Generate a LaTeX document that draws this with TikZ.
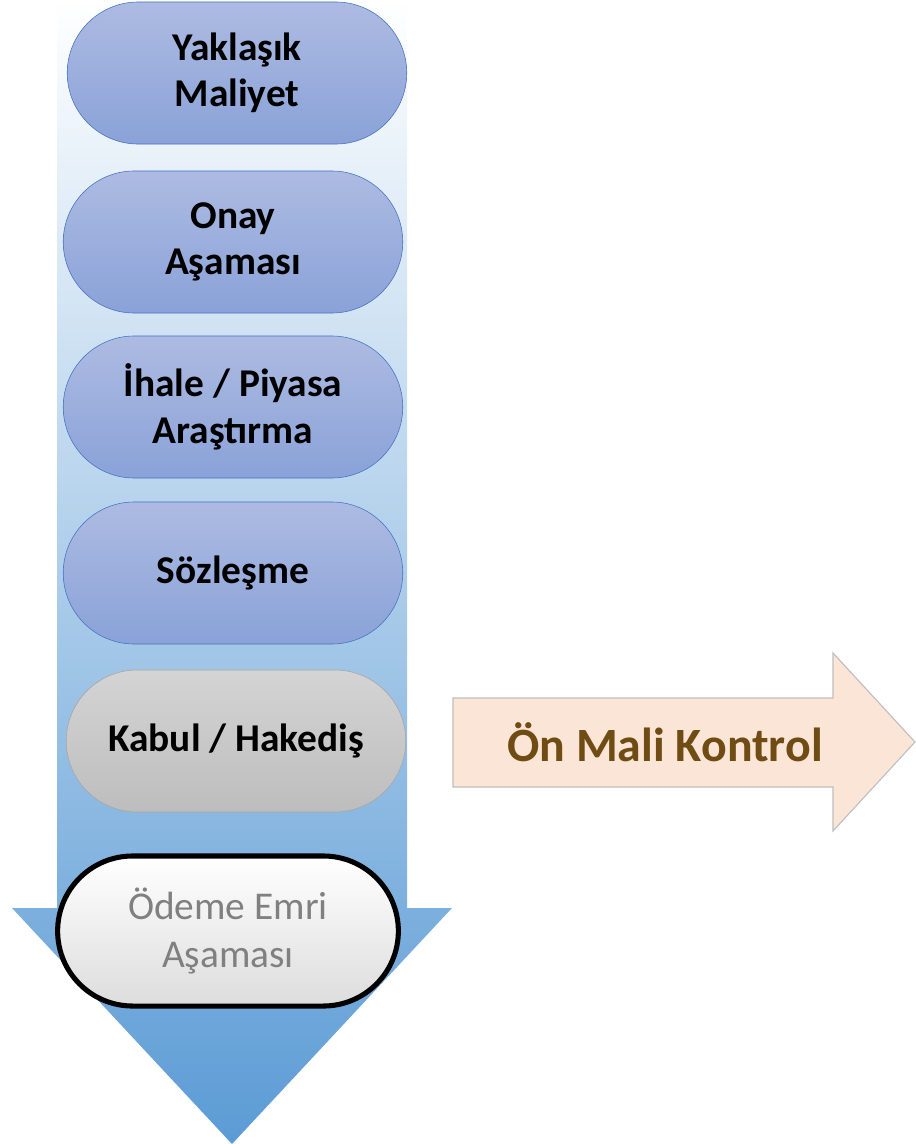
\documentclass[tikz,border=0pt]{standalone}
\usepackage{fontspec}
\setmainfont{Carlito}
\usetikzlibrary{shapes.misc}

\definecolor{flowblue}{HTML}{5B9BD5}
\definecolor{flowpale}{HTML}{C9D9EF}
\definecolor{pilltop}{HTML}{ADBBE2}
\definecolor{pillbot}{HTML}{8AA2D8}
\definecolor{pilledge}{HTML}{4472C4}
\definecolor{greytop}{HTML}{D4D4D4}
\definecolor{greybot}{HTML}{BDBDBD}
\definecolor{greyedge}{HTML}{A5A5A5}
\definecolor{peach}{HTML}{FBE5D6}
\definecolor{peachedge}{HTML}{BFBFBF}
\definecolor{ctrlbrown}{HTML}{6E4C13}

\tikzset{
  pill/.style={rounded rectangle, draw=pilledge, top color=pilltop, bottom color=pillbot,
    minimum width=8.72cm, minimum height=3.55cm, align=center,
    font=\fontsize{28}{33}\selectfont\bfseries},
  greypill/.style={pill, draw=greyedge, top color=greytop, bottom color=greybot},
  lastpill/.style={pill, draw=black, line width=3.6pt, top color=white, bottom color=greytop!80,
    minimum width=8.75cm, minimum height=3.75cm, text=gray,
    font=\fontsize{28}{34}\selectfont}
}

\begin{document}
\begin{tikzpicture}[x=0.025cm, y=-0.025cm]
			\useasboundingbox (0,0) rectangle (915,1144);
			
			% big downward arrow
			\shade[top color=white, middle color=flowpale, bottom color=flowblue]
			  (57,0)--(407,0)--(407,908)--(452,908)--(232,1144)--(12,908)--(57,908)--cycle;
			
			% steps
			\node[pill] (maliyet) at (237,73) {Yaklaşık\\ Maliyet};
			\node[pill] (onay) at (233,242) {Onay\\ Aşaması};
			\node[pill] (ihale) at (233,407) {İhale / Piyasa\\ Araştırma};
			\node[pill] (sozlesme) at (233,573) {Sözleşme};
			\node[greypill] (kabul) at (236,741) {Kabul / Hakediş};
			\node[lastpill] (odeme) at (228,931) {Ödeme Emri\\ Aşaması};
			
			% right arrow
			\filldraw[fill=peach, draw=peachedge, line width=0.8pt]
			  (453,698)--(833,698)--(833,653)--(915,742)--(833,831)--(833,787)--(453,787)--cycle;
			\node[text=ctrlbrown, font=\fontsize{34}{40}\selectfont\bfseries] (kontrol) at (665,742) {Ön Mali Kontrol};
		\end{tikzpicture}
\end{document}
